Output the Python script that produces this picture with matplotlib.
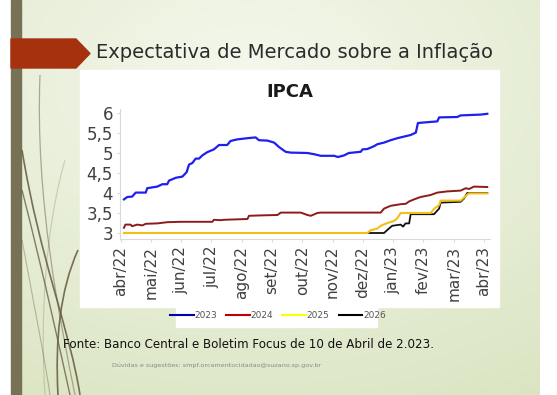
import numpy as np
import matplotlib
matplotlib.use("Agg")
from matplotlib import pyplot as plt
from matplotlib.patches import Rectangle, Polygon, PathPatch
from matplotlib.path import Path
from matplotlib.lines import Line2D

# Dane - miesiace od abr/22 (0) do abr/23 (12)
meses = ["abr/22", "mai/22", "jun/22", "jul/22", "ago/22", "set/22", "out/22",
         "nov/22", "dez/22", "jan/23", "fev/23", "mar/23", "abr/23"]

x_2023 = [0.11, 0.22, 0.38, 0.5, 0.83, 0.88, 1.21, 1.38, 1.54, 1.6, 1.82, 2.04, 2.18,
          2.26, 2.37, 2.48, 2.59, 2.7, 2.86, 3.08, 3.25, 3.52, 3.63, 3.85, 4.19, 4.46,
          4.57, 4.85, 5.07, 5.23, 5.45, 5.62, 6.17, 6.39, 6.61, 7.05, 7.18, 7.38, 7.54,
          7.93, 7.99, 8.15, 8.37, 8.48, 8.7, 8.92, 9.14, 9.36, 9.58, 9.75, 9.82, 10.13,
          10.46, 10.52, 11.12, 11.23, 11.89, 12.11]
y_2023 = [3.84, 3.9, 3.91, 4.01, 4.01, 4.12, 4.16, 4.22, 4.22, 4.31, 4.38, 4.41, 4.52,
          4.71, 4.75, 4.86, 4.86, 4.94, 5.02, 5.09, 5.2, 5.2, 5.3, 5.34, 5.37, 5.39,
          5.32, 5.31, 5.26, 5.15, 5.03, 5.01, 5.0, 4.97, 4.93, 4.93, 4.9, 4.94, 5.0,
          5.03, 5.09, 5.1, 5.17, 5.22, 5.26, 5.32, 5.37, 5.41, 5.45, 5.51, 5.75, 5.77,
          5.79, 5.89, 5.9, 5.94, 5.96, 5.98]

x_2024 = [0.11, 0.16, 0.33, 0.38, 0.55, 0.72, 0.83, 1.21, 1.54, 1.98, 3.03, 3.08, 3.3,
          3.41, 4.19, 4.24, 4.63, 5.18, 5.29, 5.95, 6.17, 6.28, 6.5, 6.61, 8.59, 8.7,
          8.92, 9.25, 9.42, 9.53, 9.69, 9.91, 10.24, 10.46, 10.79, 11.23, 11.4, 11.51,
          11.67, 12.11]
y_2024 = [3.13, 3.21, 3.21, 3.17, 3.21, 3.19, 3.23, 3.24, 3.27, 3.28, 3.28, 3.33, 3.32,
          3.33, 3.35, 3.43, 3.44, 3.45, 3.51, 3.51, 3.45, 3.43, 3.5, 3.51, 3.51, 3.61,
          3.68, 3.72, 3.73, 3.79, 3.84, 3.9, 3.95, 4.01, 4.04, 4.06, 4.12, 4.1, 4.16,
          4.15]

x_2025 = [0.11, 8.15, 8.26, 8.48, 8.59, 8.81, 9.03, 9.14, 9.25, 10.24, 10.35, 10.52,
          10.57, 11.23, 11.32, 11.45, 11.5, 12.11]
y_2025 = [3.0, 3.0, 3.07, 3.11, 3.18, 3.25, 3.3, 3.37, 3.5, 3.5, 3.6, 3.7, 3.81, 3.81,
          3.87, 3.96, 3.99, 3.99]

x_2026 = [8.15, 8.7, 8.86, 8.97, 9.25, 9.33, 9.41, 9.53, 9.58, 10.35, 10.52, 10.57,
          11.23, 11.34, 11.45, 12.11]
y_2026 = [3.0, 3.0, 3.11, 3.18, 3.21, 3.16, 3.24, 3.24, 3.47, 3.47, 3.61, 3.76, 3.78,
          3.86, 4.0, 4.0]

yticks = [3, 3.5, 4, 4.5, 5, 5.5, 6]
ytick_labels = ["3", "3,5", "4", "4,5", "5", "5,5", "6"]

W, H = 557, 395
fig = plt.figure(figsize=(W / 100, H / 100), dpi=100)
fig.patch.set_facecolor("white")


def fx(px):
    return px / W


def fy(py):
    return 1 - py / H


# tlo slajdu - gradient
bg = fig.add_axes([fx(11), 0, fx(540 - 11), 1], zorder=-10)
gx, gy = np.meshgrid(np.linspace(0, 1, 200), np.linspace(0, 1, 150))
r = np.clip(np.sqrt(((gx - 0.45) / 1.1) ** 2 + ((gy - 0.2) / 1.0) ** 2), 0, 1)
c0 = np.array([0.960, 0.972, 0.930])
c1 = np.array([0.850, 0.892, 0.750])
img = c0 + (c1 - c0) * r[..., None]
bg.imshow(img, aspect="auto", extent=[0, 1, 1, 0])
bg.set_xlim(0, 1)
bg.set_ylim(1, 0)
bg.axis("off")

# pasek po lewej i strzalka
fig.patches.append(Rectangle((fx(11), 0), fx(10), 1, transform=fig.transFigure,
                             color="#777256", zorder=-5))
fig.patches.append(Polygon([(fx(11), fy(39)), (fx(76), fy(39)), (fx(90), fy(53.5)),
                            (fx(76), fy(68)), (fx(11), fy(68))],
                           transform=fig.transFigure, color="#a5310f", zorder=-4))

# ozdobne lodygi
strands = [
    [(40, 75), (35, 200), (60, 320), (75, 395), 0.5, 0.9],
    [(22, 150), (40, 260), (70, 330), (80, 395), 0.9, 1.2],
    [(22, 190), (45, 280), (60, 350), (70, 395), 0.8, 1.0],
    [(78, 250), (60, 290), (55, 340), (58, 395), 0.9, 1.2],
    [(22, 240), (35, 310), (45, 360), (50, 395), 0.4, 0.8],
    [(65, 160), (45, 230), (40, 320), (45, 395), 0.25, 0.8],
]
for p0, p1, p2, p3, a, lw in strands:
    path = Path([(fx(p0[0]), fy(p0[1])), (fx(p1[0]), fy(p1[1])),
                 (fx(p2[0]), fy(p2[1])), (fx(p3[0]), fy(p3[1]))],
                [Path.MOVETO, Path.CURVE4, Path.CURVE4, Path.CURVE4])
    fig.patches.append(PathPatch(path, transform=fig.transFigure, fill=False,
                                 edgecolor="#6b6046", alpha=a, lw=lw, zorder=-3))

# biale pola wykresu i legendy
fig.patches.append(Rectangle((fx(80), fy(307)), fx(419), fy(70) - fy(307),
                             transform=fig.transFigure, color="white", zorder=-2))
fig.patches.append(Rectangle((fx(176), fy(327)), fx(201), fy(307) - fy(327),
                             transform=fig.transFigure, color="white", zorder=-2))

# teksty slajdu
fig.text(fx(96), fy(52), "Expectativa de Mercado sobre a Inflação", fontsize=14,
         color="#2b2b2b", va="center", ha="left", family="DejaVu Sans")
fig.text(fx(63), fy(344), "Fonte: Banco Central e Boletim Focus de 10 de Abril de 2.023.",
         fontsize=8.6, color="#111111", va="center", ha="left", family="DejaVu Sans")
fig.text(fx(112), fy(365), "Dúvidas e sugestões: smpf.orcamentocidadao@suzano.sp.gov.br",
         fontsize=4.6, color="#8a8a8a", va="center", ha="left")

# wykres IPCA
ax = fig.add_axes([fx(120), fy(239), fx(490 - 120), fy(109) - fy(239)])
ax.set_facecolor("none")
ax.plot(x_2023, y_2023, color="#1f1ff0", lw=1.6)
ax.plot(x_2024, y_2024, color="#8e1b1b", lw=1.4)
ax.plot(x_2026, y_2026, color="#111111", lw=1.3)
ax.plot(x_2025, y_2025, color="#f2bf1a", lw=1.5)
ax.set_xlim(-0.02, 12.2)
ax.set_ylim(2.85, 6.1)
ax.set_xticks(range(len(meses)))
ax.set_xticklabels(meses, rotation=90, fontsize=11, color="#404040")
ax.set_yticks(yticks)
ax.set_yticklabels(ytick_labels, fontsize=12, color="#404040")
for s in ["top", "right"]:
    ax.spines[s].set_visible(False)
for s in ["left", "bottom"]:
    ax.spines[s].set_color("#d9d9d9")
ax.tick_params(axis="both", length=2, color="#d9d9d9", pad=3)
fig.text(fx(290), fy(92), "IPCA", fontsize=13, fontweight="bold", color="#1a1a1a",
         ha="center", va="center")

# legenda
handles = [Line2D([], [], color=c, lw=1.5) for c in ["#0000b0", "#c00000", "#ffff00", "#000000"]]
fig.legend(handles, ["2023", "2024", "2025", "2026"], ncol=4, frameon=False,
           loc="center", bbox_to_anchor=(fx(278), fy(316)), fontsize=6.5,
           handlelength=2.6, handletextpad=0.1, columnspacing=1.0,
           labelcolor="#555555")

fig.savefig("out.png", dpi=100)
